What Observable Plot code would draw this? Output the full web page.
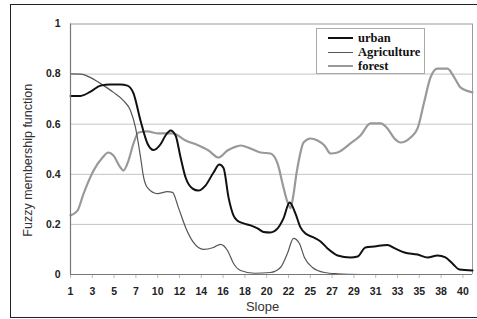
<!DOCTYPE html>
<html>
<head>
<meta charset="utf-8">
<script src="https://cdn.jsdelivr.net/npm/d3@7"></script>
<script src="https://cdn.jsdelivr.net/npm/@observablehq/plot@0.6"></script>
<style>
  html, body { margin: 0; padding: 0; background: #fff; }
  #wrap { position: relative; width: 477px; height: 319px; overflow: hidden; }
  #border { position: absolute; left: 10px; top: 4px; width: 480px; height: 312px; border: 1.5px solid #222; pointer-events: none; }
  #legend { position: absolute; left: 316px; top: 28px; width: 107px; height: 44px; border: 1px solid #aaa; background: #fff;
            font-family: "Liberation Serif", serif; font-weight: bold; font-size: 12.5px; color: #111; }
  .row { position: absolute; left: 0; height: 14px; display: flex; align-items: center; }
  .sw { display: inline-block; width: 25px; margin-left: 11px; margin-right: 5px; }
</style>
</head>
<body>
<div id="wrap">
  <div id="chart"></div>
  <div id="border"></div>
  <div id="legend"></div>
</div>
<script>
// Slope tick labels (evenly spaced category labels)
const tickLabels = [1, 3, 5, 7, 10, 12, 14, 16, 18, 20, 22, 25, 27, 29, 31, 33, 35, 38, 40];

// Positions along the slope axis (in tick-label units) and membership values
const urbanX = [0, 0.46, 0.92, 1.38, 1.83, 2.29, 2.61, 2.89, 3.21, 3.53, 3.81, 4.13, 4.36, 4.59, 4.82, 5.05, 5.28, 5.6, 5.87, 6.19, 6.56, 6.83, 7.02, 7.25, 7.48, 7.66, 7.94, 8.26, 8.58, 8.85, 9.17, 9.5, 9.77, 10.05, 10.32, 10.55, 10.78, 11.15, 11.47, 11.79, 12.25, 12.84, 13.17, 13.53, 13.94, 14.54, 14.86, 15.32, 15.92, 16.38, 16.83, 17.2, 17.52, 17.84, 18.44];
const urbanY = [0.713, 0.713, 0.73, 0.754, 0.758, 0.758, 0.754, 0.723, 0.615, 0.523, 0.497, 0.52, 0.555, 0.575, 0.555, 0.467, 0.387, 0.343, 0.335, 0.355, 0.407, 0.439, 0.425, 0.307, 0.235, 0.215, 0.204, 0.196, 0.184, 0.17, 0.168, 0.184, 0.224, 0.287, 0.243, 0.188, 0.164, 0.148, 0.132, 0.104, 0.076, 0.068, 0.072, 0.108, 0.112, 0.118, 0.105, 0.088, 0.08, 0.068, 0.076, 0.068, 0.044, 0.02, 0.016];

const agriX = [0, 0.46, 0.92, 1.38, 1.97, 2.43, 2.75, 2.98, 3.08, 3.21, 3.35, 3.53, 3.99, 4.45, 4.68, 4.95, 5.28, 5.64, 6.1, 6.56, 6.88, 7.2, 7.48, 7.8, 8.44, 9.17, 9.63, 9.95, 10.23, 10.5, 10.73, 11.1, 11.65, 12.25, 13.4];
const agriY = [0.801, 0.8, 0.786, 0.762, 0.727, 0.694, 0.655, 0.587, 0.54, 0.47, 0.39, 0.347, 0.323, 0.331, 0.328, 0.267, 0.188, 0.128, 0.1, 0.108, 0.12, 0.096, 0.044, 0.016, 0.005, 0.008, 0.028, 0.084, 0.144, 0.124, 0.068, 0.028, 0.008, 0.003, 0.0];

const forestX = [0, 0.32, 0.6, 1.06, 1.47, 1.74, 1.97, 2.29, 2.43, 2.66, 2.89, 3.12, 3.53, 4.04, 4.68, 5.28, 5.87, 6.33, 6.79, 7.2, 7.48, 7.8, 8.26, 8.72, 9.17, 9.5, 9.77, 9.95, 10.09, 10.23, 10.36, 10.5, 10.69, 11.01, 11.33, 11.65, 11.93, 12.25, 12.84, 13.3, 13.76, 14.22, 14.54, 14.86, 15.14, 15.6, 15.92, 16.24, 16.51, 16.83, 17.29, 17.61, 17.89, 18.44];
const forestY = [0.236, 0.255, 0.323, 0.415, 0.467, 0.487, 0.475, 0.427, 0.415, 0.455, 0.523, 0.567, 0.571, 0.563, 0.563, 0.535, 0.515, 0.495, 0.467, 0.495, 0.507, 0.515, 0.503, 0.487, 0.483, 0.443, 0.347, 0.29, 0.265, 0.32, 0.4, 0.467, 0.527, 0.543, 0.535, 0.515, 0.483, 0.487, 0.523, 0.555, 0.603, 0.603, 0.583, 0.543, 0.527, 0.547, 0.583, 0.695, 0.786, 0.822, 0.822, 0.786, 0.747, 0.727];

const yTicks = [0, 0.2, 0.4, 0.6, 0.8, 1];
const gridY = [0.2, 0.4, 0.6, 0.8];

const series = [
  {name: "urban", X: urbanX, Y: urbanY, stroke: "#111", width: 2},
  {name: "Agriculture", X: agriX, Y: agriY, stroke: "#555", width: 1.2},
  {name: "forest", X: forestX, Y: forestY, stroke: "#999", width: 2.2}
];

const xMax = 18.44;
const lineMark = s => Plot.line(d3.range(s.X.length), {
  x: i => s.X[i], y: i => s.Y[i], curve: "monotone-x",
  stroke: s.stroke, strokeWidth: s.width, strokeLinejoin: "round"
});

const chart = Plot.plot({
  width: 477,
  height: 319,
  marginLeft: 70,
  marginRight: 5,
  marginTop: 23.5,
  marginBottom: 45,
  style: {fontFamily: "'Liberation Sans', Arial, sans-serif", background: "transparent"},
  x: {domain: [0, xMax]},
  y: {domain: [0, 1]},
  marks: [
    Plot.ruleY(gridY, {stroke: "#c4c4c4", strokeWidth: 1}),
    Plot.ruleY([1], {stroke: "#999", strokeWidth: 1}),
    Plot.ruleX([xMax], {stroke: "#999", strokeWidth: 1}),
    Plot.axisX(d3.range(tickLabels.length), {
      tickSize: 4, tickPadding: 9, stroke: "#bbb",
      tickFormat: i => tickLabels[i],
      fontSize: 10.5, fontWeight: "bold", fill: "#222", label: null
    }),
    Plot.axisY(yTicks, {
      tickSize: 0, tickPadding: 10, tickFormat: d => String(d),
      fontSize: 10.5, fontWeight: "bold", fill: "#222", label: null
    }),
    Plot.text(["Slope"], {frameAnchor: "bottom", lineAnchor: "middle", dy: 32, dx: -9, fontSize: 13, fill: "#333"}),
    Plot.text(["Fuzzy membership function"], {frameAnchor: "left", textAnchor: "middle", lineAnchor: "middle", dx: -43, dy: 11, rotate: -90, fontSize: 12.5, fill: "#333"}),
    lineMark(series[2]),
    lineMark(series[1]),
    lineMark(series[0]),
    Plot.ruleX([0], {stroke: "#777", strokeWidth: 1.2}),
    Plot.ruleY([0], {stroke: "#777", strokeWidth: 1.2})
  ]
});
document.getElementById("chart").appendChild(chart);

// Legend
const legend = document.getElementById("legend");
series.forEach((s, k) => {
  const row = document.createElement("div");
  row.className = "row";
  row.style.top = (2 + k * 14) + "px";
  const sw = document.createElement("span");
  sw.className = "sw";
  sw.style.borderTop = `${s.width}px solid ${s.stroke}`;
  row.appendChild(sw);
  const t = document.createElement("span");
  t.textContent = s.name;
  row.appendChild(t);
  legend.appendChild(row);
});
</script>
</body>
</html>
